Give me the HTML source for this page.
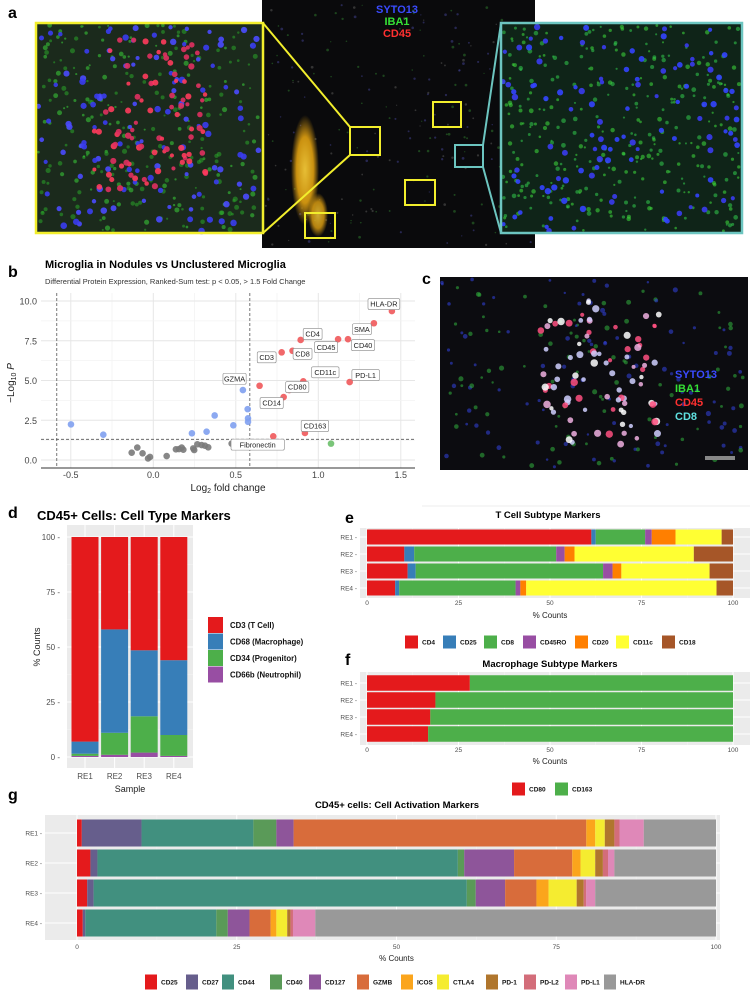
<!DOCTYPE html>
<html><head><meta charset="utf-8">
<style>
html,body{margin:0;padding:0;background:#fff;}
svg{display:block;font-family:"Liberation Sans",Arial,sans-serif;}
</style></head>
<body>
<svg id="fig" width="755" height="992" viewBox="0 0 755 992" xmlns="http://www.w3.org/2000/svg">
<defs>
<radialGradient id="blob" cx="50%" cy="50%" r="50%"><stop offset="0" stop-color="#ffd23a"/><stop offset="0.6" stop-color="#e0a010"/><stop offset="1" stop-color="#e0a010" stop-opacity="0"/></radialGradient>
</defs>
<!-- panel a -->
<g>
<text x="8" y="18" font-size="16" font-weight="bold">a</text>
<rect x="262" y="0" width="273" height="248" fill="#0a0a0c"/>
<g id="midTex"></g>
<ellipse cx="305" cy="170" rx="14" ry="55" fill="url(#blob)" opacity="0.9"/>
<ellipse cx="318" cy="215" rx="10" ry="22" fill="url(#blob)" opacity="0.8"/>
<rect x="37" y="24" width="225" height="208" fill="#1b2a1c"/>
<g id="leftTex"></g>
<rect x="36" y="23" width="227" height="210" fill="none" stroke="#f2ee2c" stroke-width="2.5"/>
<rect x="502" y="24" width="239" height="208" fill="#0f2418"/>
<g id="rightTex"></g>
<rect x="501" y="23" width="241" height="210" fill="none" stroke="#6cc5c0" stroke-width="2.5"/>
<g fill="none" stroke="#f2ee2c" stroke-width="2">
<rect x="350" y="127" width="30" height="28"/>
<rect x="433" y="102" width="28" height="25"/>
<rect x="405" y="180" width="30" height="25"/>
<rect x="305" y="213" width="30" height="25"/>
<line x1="263" y1="23" x2="350" y2="127"/><line x1="263" y1="233" x2="350" y2="155"/>
</g>
<g fill="none" stroke="#6cc5c0" stroke-width="2">
<rect x="455" y="145" width="28" height="22"/>
<line x1="483" y1="145" x2="501" y2="23"/><line x1="483" y1="167" x2="501" y2="233"/>
</g>
<g font-size="11" font-weight="bold" text-anchor="middle">
<text x="397" y="13" fill="#3a4bff">SYTO13</text>
<text x="397" y="25" fill="#35e035">IBA1</text>
<text x="397" y="37" fill="#ff3030">CD45</text>
</g>
</g>

<!-- panel b -->
<g id="panelB">
<text x="8" y="277" font-size="16" font-weight="bold">b</text>
<text x="45" y="268" font-size="11" font-weight="bold">Microglia in Nodules vs Unclustered Microglia</text>
<text x="45" y="284" font-size="7.5" fill="#333">Differential Protein Expression, Ranked-Sum test: p &lt; 0.05, &gt; 1.5 Fold Change</text>
<g id="bGrid"></g><g id="bPts"></g><g id="bLab"></g>
<text transform="translate(14,383) rotate(-90)" font-size="10" text-anchor="middle" fill="#222">−Log<tspan font-size="7" dy="2">10</tspan><tspan dy="-2"> </tspan><tspan font-style="italic">P</tspan></text>
<text x="228" y="491" font-size="10" text-anchor="middle" fill="#222">Log<tspan font-size="7" dy="2">2</tspan><tspan dy="-2"> fold change</tspan></text>
</g>

<!-- panel c -->
<g>
<text x="422" y="284" font-size="16" font-weight="bold">c</text>
<rect x="440" y="277" width="308" height="193" fill="#0c0c10"/>
<g id="cTex"></g>
<g font-size="11" font-weight="bold">
<text x="675" y="378" fill="#3a4bff">SYTO13</text>
<text x="675" y="392" fill="#35e035">IBA1</text>
<text x="675" y="406" fill="#ff3030">CD45</text>
<text x="675" y="420" fill="#5fe0e0">CD8</text>
</g>
<rect x="705" y="456" width="30" height="4" fill="#888"/>
</g>

<!-- panel d -->
<g id="panelD">
<text x="8" y="518" font-size="16" font-weight="bold">d</text>
<text x="37" y="520" font-size="13" font-weight="bold">CD45+ Cells: Cell Type Markers</text>
<text transform="translate(40,647) rotate(-90)" font-size="9" text-anchor="middle" fill="#222">% Counts</text>
<text x="130" y="792" font-size="9" text-anchor="middle" fill="#222">Sample</text>
</g>

<g id="panelE">
<text x="345" y="523" font-size="16" font-weight="bold">e</text>
<line x1="422" y1="506" x2="750" y2="506" stroke="#eee"/>
<text x="548" y="518" font-size="9.5" font-weight="bold" text-anchor="middle">T Cell Subtype Markers</text>
</g>
<g id="panelF">
<text x="345" y="665" font-size="16" font-weight="bold">f</text>
<text x="550" y="667" font-size="9.5" font-weight="bold" text-anchor="middle">Macrophage Subtype Markers</text>
</g>
<g id="panelG">
<text x="8" y="800" font-size="16" font-weight="bold">g</text>
<text x="397" y="808" font-size="9.5" font-weight="bold" text-anchor="middle">CD45+ cells: Cell Activation Markers</text>
</g>
</svg>
<script>
const NS="http://www.w3.org/2000/svg";
function mk(parent,tag,attrs,txt){const e=document.createElementNS(NS,tag);for(const k in attrs)e.setAttribute(k,attrs[k]);if(txt!==undefined)e.textContent=txt;parent.appendChild(e);return e;}

// ---------- panel b data ----------
const volcanoX=[1.446,1.337,0.893,1.12,1.18,0.844,0.778,0.644,0.909,0.824,1.19,0.79,0.919,0.727,1.077,-0.499,-0.303,0.234,0.323,0.372,0.485,0.543,0.572,0.574,0.574,-0.131,-0.097,-0.065,-0.032,-0.02,0.081,0.137,0.156,0.172,0.182,0.242,0.248,0.267,0.293,0.313,0.333,0.475];
const volcanoY=[9.37,8.6,7.55,7.6,7.6,6.87,6.77,4.67,4.95,4.4,4.9,3.96,1.7,1.49,1.03,2.24,1.59,1.68,1.78,2.8,2.18,4.4,3.2,2.62,2.4,0.46,0.78,0.42,0.1,0.19,0.25,0.67,0.69,0.78,0.65,0.73,0.63,0.99,0.94,0.9,0.8,1.03];
const volcanoGroup=["r","r","r","r","r","r","r","r","r","r","r","r","r","r","g","b","b","b","b","b","b","b","b","b","b","k","k","k","k","k","k","k","k","k","k","k","k","k","k","k","k","k"];
const volcanoLabels=["HLA-DR","SMA","CD4","CD45","CD40","CD8","CD3","GZMA","CD11c","CD80","PD-L1","CD14","CD163","","","","","","","","","","","","","","","","","","","","","","","","","","","","","Fibronectin"];
const labelDX=[-8,-12,12,-12,15,10,-15,-25,22,8,16,-12,10,0,0,0,0,0,0,0,0,0,0,0,0,0,0,0,0,0,0,0,0,0,0,0,0,0,0,0,0,26];
const labelDY=[-7,6,-6,8,6,3,5,-7,-9,-3,-7,6,-7,0,0,0,0,0,0,0,0,0,0,0,0,0,0,0,0,0,0,0,0,0,0,0,0,0,0,0,0,1];
const bXTicks=[-0.5,0,0.5,1,1.5];
const bXTickLabels=["-0.5","0.0","0.5","1.0","1.5"];
const bYTicks=[0,2.5,5,7.5,10];
const bYTickLabels=["0.0","2.5","5.0","7.5","10.0"];
const fcCut=0.585, pCut=1.3;

const bx=v=>153.3+165*v, by=v=>460-15.9*v;
(function(){
 const g=document.getElementById('bGrid');
 const L=41,R=415,T=293,B=468;
 for(let i=0;i<bXTicks.length;i++){
  const x=bx(bXTicks[i]);
  if(i<bXTicks.length-1){const xm=bx((bXTicks[i]+bXTicks[i+1])/2);mk(g,'line',{x1:xm,x2:xm,y1:T,y2:B,stroke:'#f3f3f3','stroke-width':0.8});}
  mk(g,'line',{x1:x,x2:x,y1:T,y2:B,stroke:'#e6e6e6','stroke-width':1});
  const t=mk(g,'text',{x:x,y:478,'font-size':9,'text-anchor':'middle',fill:'#444'},bXTickLabels[i]);
  
  
 }
 for(let i=0;i<bYTicks.length;i++){
  const y=by(bYTicks[i]);
  if(i<bYTicks.length-1){const ym=by((bYTicks[i]+bYTicks[i+1])/2);mk(g,'line',{x1:L,x2:R,y1:ym,y2:ym,stroke:'#f3f3f3','stroke-width':0.8});}
  mk(g,'line',{x1:L,x2:R,y1:y,y2:y,stroke:'#e6e6e6','stroke-width':1});
  const t=mk(g,'text',{x:37,y:y+3.5,'font-size':9,'text-anchor':'end',fill:'#444'},bYTickLabels[i]);
  
  
 }
 mk(g,'line',{x1:L,x2:R,y1:B,y2:B,stroke:'#333','stroke-width':1});
 [-fcCut,fcCut].forEach(v=>{const l=mk(g,'line',{x1:bx(v),x2:bx(v),y1:T,y2:B,stroke:'#555','stroke-dasharray':'3,2','stroke-width':0.8});
  
  });
 const hl=mk(g,'line',{x1:L,x2:R,y1:by(pCut),y2:by(pCut),stroke:'#555','stroke-dasharray':'3,2','stroke-width':0.8});
 
 
 const cols={r:'#f0585a',g:'#6cbf6a',b:'#7fa0ef',k:'#7a7a7a'};
 const P=document.getElementById('bPts'),Lb=document.getElementById('bLab');
 for(let i=0;i<volcanoX.length;i++){
  const c=mk(P,'circle',{cx:bx(volcanoX[i]),cy:by(volcanoY[i]),r:3.3,fill:cols[volcanoGroup[i]],opacity:0.9});
  
  
 }
 for(let i=0;i<volcanoX.length;i++){
  if(!volcanoLabels[i])continue;
  const px=bx(volcanoX[i]),py=by(volcanoY[i]);
  const lx=px+labelDX[i],ly=py+labelDY[i];
  const w=volcanoLabels[i].length*4.3+6;
  const gg=mk(Lb,'g',{});
  
  
  mk(gg,'rect',{x:lx-w/2,y:ly-5.5,width:w,height:11,rx:1.5,fill:'#fff',stroke:'#888','stroke-width':0.6});
  mk(gg,'text',{x:lx,y:ly+2.7,'font-size':7.3,'text-anchor':'middle',fill:'#222'},volcanoLabels[i]);
 }
})();

// ---------- panel d ----------
const dSamples=["RE1","RE2","RE3","RE4"];
const dSeriesNames=["CD66b (Neutrophil)","CD34 (Progenitor)","CD68 (Macrophage)","CD3 (T Cell)"];
const dCD66b=[0.5,1,2,0.5];
const dCD34=[1,10,16.5,9.5];
const dCD68=[5.5,47,30,34];
const dCD3=[93,42,51.5,56];
const dColors=["#984ea3","#4daf4a","#377eb8","#e41a1c"];
const dYTicks=[0,25,50,75,100];
(function(){
 const g=document.getElementById('panelD');
 const dy=v=>757-2.2*v, dxc=i=>85+29.6*i;
 mk(g,'rect',{x:67,y:525,width:126,height:243,fill:'#ebebeb'});
 dYTicks.forEach(t=>{mk(g,'line',{x1:67,x2:193,y1:dy(t),y2:dy(t),stroke:'#fff','stroke-width':1});
  if(t<100)mk(g,'line',{x1:67,x2:193,y1:dy(t+12.5),y2:dy(t+12.5),stroke:'#f5f5f5','stroke-width':0.5});
  const tl=mk(g,'text',{x:60,y:dy(t)+3,'font-size':8,'text-anchor':'end',fill:'#4d4d4d'},t+' -');
  
  });
 const series=[dCD66b,dCD34,dCD68,dCD3];
 dSamples.forEach((s,i)=>{
  mk(g,'line',{x1:dxc(i),x2:dxc(i),y1:525,y2:768,stroke:'#fff','stroke-width':1});
  let cum=0;
  series.forEach((arr,k)=>{
   const r=mk(g,'rect',{x:dxc(i)-13.5,y:dy(cum+arr[i]),width:27,height:dy(cum)-dy(cum+arr[i]),fill:dColors[k]});
   
   
   cum+=arr[i];
  });
  const tl=mk(g,'text',{x:dxc(i),y:779,'font-size':8,'text-anchor':'middle',fill:'#4d4d4d'},s);
  
  
 });
 for(let k=3;k>=0;k--){
  const yy=617+16.5*(3-k);
  const lg=mk(g,'g',{});
  
  
  mk(lg,'rect',{x:208,y:yy,width:15,height:16,fill:dColors[k]});
  mk(lg,'text',{x:230,y:yy+11,'font-size':7.8,'font-weight':'bold',fill:'#111'},dSeriesNames[k]);
 }
})();

// ---------- stacked horizontal bar helper ----------
function hbars(gid,opt,rows,series,names,colors){
 const g=document.getElementById(gid);
 const x=v=>opt.x0+opt.k*v;
 mk(g,'rect',{x:opt.L,y:opt.T,width:opt.R-opt.L,height:opt.B-opt.T,fill:'#ebebeb'});
 opt.ticks.forEach((t,j)=>{mk(g,'line',{x1:x(t),x2:x(t),y1:opt.T,y2:opt.B,stroke:'#fff','stroke-width':1});
  if(j<opt.ticks.length-1)mk(g,'line',{x1:x(t+12.5),x2:x(t+12.5),y1:opt.T,y2:opt.B,stroke:'#f5f5f5','stroke-width':0.5});
  const tl=mk(g,'text',{x:x(t),y:opt.tickY,'font-size':opt.fs,'text-anchor':'middle',fill:'#4d4d4d'},String(t));
  
  });
 const at=mk(g,'text',{x:(x(0)+x(100))/2,y:opt.axY,'font-size':opt.fs+1.5,'text-anchor':'middle',fill:'#222'},'% Counts');
 
 
 rows.forEach((r,i)=>{
  const cy=opt.rowY[i];
  mk(g,'line',{x1:opt.L,x2:opt.R,y1:cy,y2:cy,stroke:'#fff','stroke-width':1});
  let cum=0;
  series.forEach((arr,k)=>{
   const rr=mk(g,'rect',{x:x(cum),y:cy-opt.h/2,width:Math.max(0,x(cum+arr[i])-x(cum)),height:opt.h,fill:colors[k]});
   
   
   cum+=arr[i];
  });
  const tl=mk(g,'text',{x:opt.L-3,y:cy+2.5,'font-size':opt.fs,'text-anchor':'end',fill:'#4d4d4d'},r+' -');
  
  
 });
 names.forEach((n,k)=>{
  const lg=mk(g,'g',{});
  
  
  mk(lg,'rect',{x:opt.legX[k],y:opt.legY-opt.keyH/2,width:opt.keyW,height:opt.keyH,fill:colors[k]});
  mk(lg,'text',{x:opt.legX[k]+opt.keyW+4,y:opt.legY+2.5,'font-size':opt.fs,'font-weight':'bold',fill:'#111'},n);
 });
}

// ---------- panel e data ----------
const eRows=["RE1","RE2","RE3","RE4"];
const eNames=["CD4","CD25","CD8","CD45RO","CD20","CD11c","CD18"];
const eCD4=[61.3,10.2,11.1,7.7];
const eCD25=[1.2,2.7,2.2,1.1];
const eCD8=[13.5,38.8,51.2,31.8];
const eCD45RO=[1.8,2.3,2.6,1.3];
const eCD20=[6.5,2.7,2.4,1.6];
const eCD11c=[12.6,32.6,24.1,52];
const eCD18=[3.1,10.7,6.4,4.5];
const eColors=["#e41a1c","#377eb8","#4daf4a","#984ea3","#ff7f00","#ffff33","#a65628"];
hbars('panelE',{L:360,R:750,T:528,B:598,x0:367,k:3.66,ticks:[0,25,50,75,100],tickY:605,axY:618,fs:6.5,rowY:[537,554,571,588],h:15,
 legX:[405,443,484,523,575,616,662],legY:642,keyW:13,keyH:13},eRows,[eCD4,eCD25,eCD8,eCD45RO,eCD20,eCD11c,eCD18],eNames,eColors);

// ---------- panel f data ----------
const fRows=["RE1","RE2","RE3","RE4"];
const fNames=["CD80","CD163"];
const fCD80=[28.1,18.7,17.3,16.7];
const fCD163=[71.9,81.3,82.7,83.3];
const fColors=["#e41a1c","#4daf4a"];
hbars('panelF',{L:360,R:750,T:672,B:745,x0:367,k:3.66,ticks:[0,25,50,75,100],tickY:752,axY:764,fs:6.5,rowY:[683,700,717,734],h:15.5,
 legX:[512,555],legY:789,keyW:13,keyH:13},fRows,[fCD80,fCD163],fNames,fColors);

// ---------- panel g data ----------
const gRows=["RE1","RE2","RE3","RE4"];
const gNames=["CD25","CD27","CD44","CD40","CD127","GZMB","ICOS","CTLA4","PD-1","PD-L2","PD-L1","HLA-DR"];
const gCD25=[0.75,2.1,1.6,0.9];
const gCD27=[9.35,1.1,1.0,0.4];
const gCD44=[17.5,56.4,58.4,20.5];
const gCD40=[3.6,1.0,1.4,1.8];
const gCD127=[2.7,7.8,4.6,3.4];
const gGZMB=[45.8,9.1,4.9,3.3];
const gICOS=[1.4,1.3,1.9,0.9];
const gCTLA4=[1.5,2.3,4.4,1.7];
const gPD1=[1.5,1.2,1.1,0.5];
const gPDL2=[0.8,0.8,0.4,0.4];
const gPDL1=[3.8,1.0,1.4,3.5];
const gHLADR=[11.3,15.9,18.9,62.7];
const gColors=["#e41a1c","#665e8c","#41907f","#5a9a58","#8e559a","#d86c3b","#fba51c","#f5ec30","#b0762d","#d36d7a","#df88b8","#999999"];
hbars('panelG',{L:45,R:720,T:815,B:940,x0:77,k:6.39,ticks:[0,25,50,75,100],tickY:949,axY:961,fs:6.5,rowY:[833,863,893,923],h:27,
 legX:[145,186,222,270,309,357,401,437,486,524,565,604],legY:982,keyW:12,keyH:15},gRows,
 [gCD25,gCD27,gCD44,gCD40,gCD127,gGZMB,gICOS,gCTLA4,gPD1,gPDL2,gPDL1,gHLADR],gNames,gColors);

// ---------- decorative micrograph textures (deterministic) ----------
let seed=7;function rnd(){seed=(seed*16807)%2147483647;return seed/2147483647;}
function tex(id,x,y,w,h,n,cols,rmin,rmax,op){const g=document.getElementById(id);
 for(let i=0;i<n;i++){const c=cols[Math.floor(rnd()*cols.length)];
  mk(g,'circle',{cx:x+rnd()*w,cy:y+rnd()*h,r:rmin+rnd()*(rmax-rmin),fill:c,opacity:op});}}
tex('leftTex',38,25,223,206,260,['#3bd13b','#2aa52a'],1,2.6,0.55);
tex('leftTex',38,25,223,206,120,['#3a3cf0','#4a4aff'],2,3.3,0.9);
tex('leftTex',90,40,120,150,90,['#ff3b5c','#e03060'],2,3.2,0.9);
tex('rightTex',503,25,237,206,330,['#3bd13b','#2fbf4a'],1,2.4,0.6);
tex('rightTex',503,25,237,206,110,['#3a3cf0','#3344ff'],2,3.2,0.9);
tex('midTex',265,3,268,242,220,['#3a3a80','#2a6a2a','#505050'],0.6,1.4,0.6);
tex('cTex',442,279,304,189,180,['#2fa53a','#3040d0'],1.2,2.6,0.6);
tex('cTex',540,300,120,150,90,['#ffffff','#f0b0e0','#ff5080','#d0d0ff'],2,3.8,0.85);
</script>
</body></html>
